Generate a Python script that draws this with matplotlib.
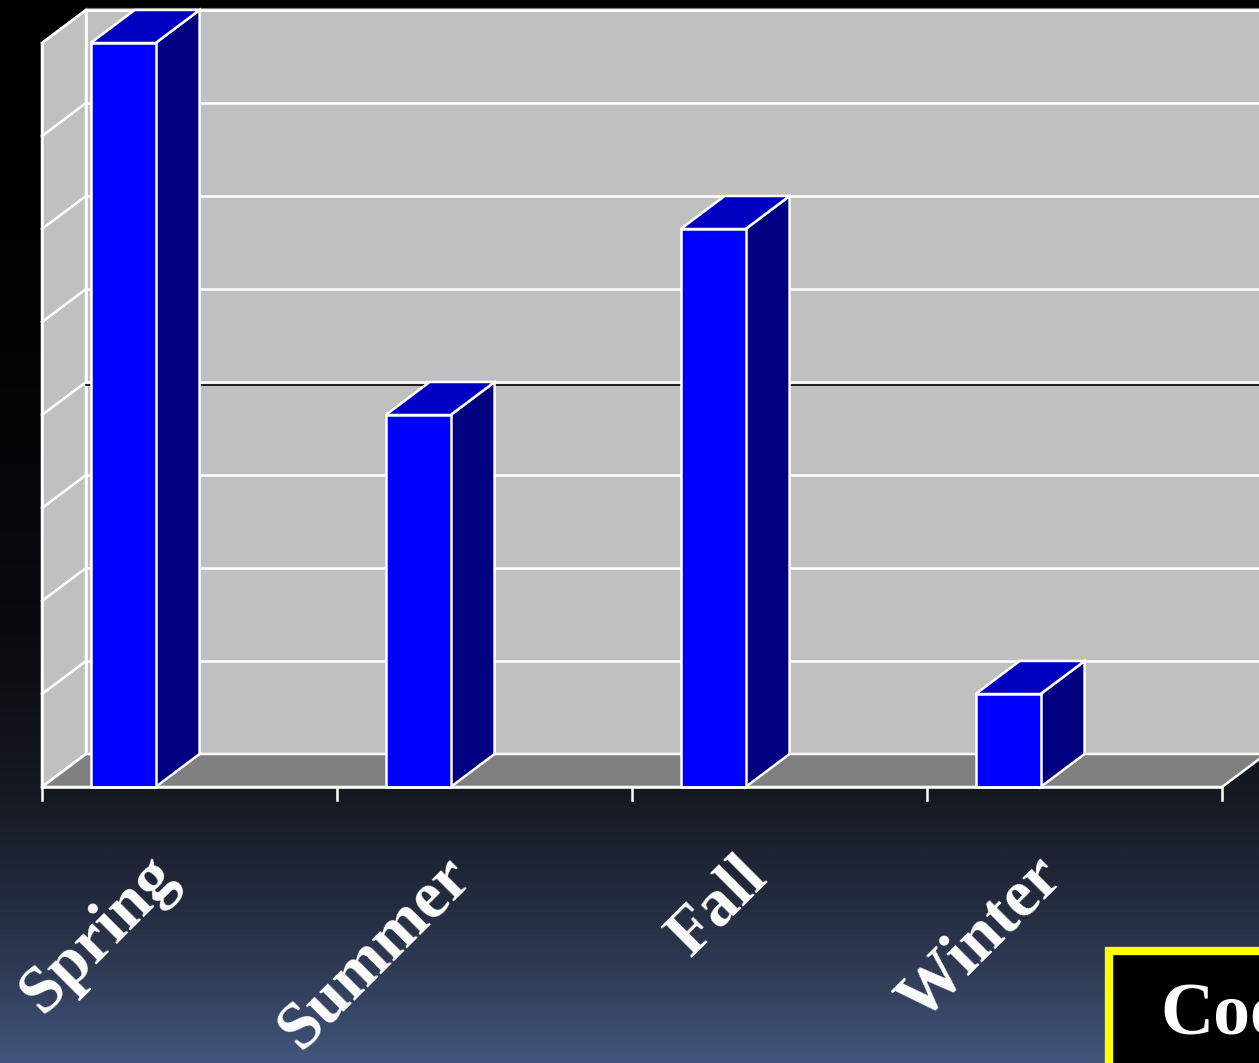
import numpy as np
import matplotlib
matplotlib.use("Agg")
import matplotlib.pyplot as plt
from matplotlib.patches import Polygon, Rectangle
from matplotlib.colors import LinearSegmentedColormap
import matplotlib.transforms as mtransforms

# Seasonal totals (chart units)
seasons = ["Spring", "Summer", "Fall", "Winter"]
values = [8, 4, 6, 1]
y_max = 8
grid_values = list(range(0, 9))
box_text = "Cool"

W, H = 1259, 1063
fig = plt.figure(figsize=(W / 100, H / 100), dpi=100)

# Slide-style gradient background
bg = fig.add_axes([0, 0, 1, 1], zorder=-10)
bg.set_axis_off()
stops = [(0.0, "#000000"), (0.33, "#030303"), (0.60, "#0a0b0f"),
         (0.75, "#151922"), (0.85, "#232b3e"), (0.94, "#34425f"),
         (1.0, "#42567c")]
cmap = LinearSegmentedColormap.from_list("slide", stops)
grad = np.linspace(0, 1, 512).reshape(-1, 1)
bg.imshow(grad, aspect="auto", cmap=cmap, extent=[0, 1, 1, 0])
bg.set_xlim(0, 1)
bg.set_ylim(1, 0)

# Front plane of the 3D chart
ax = fig.add_axes([42 / W, (H - 787) / H, 1180 / W, 744 / H])
ax.set_xlim(0, len(seasons))
ax.set_ylim(0, y_max)
ax.set_axis_off()

n = len(seasons)
DX = 44 / 295        # depth offset in category units
DY = 33 / 93         # depth offset in value units
EDGE = "white"
LW = 1.8

WALL = "#c0c0c0"
FLOOR = "#808080"
FRONT = "#0000ff"
SIDE = "#000080"
TOP = "#0000c0"

def poly(pts, fc, z):
    p = Polygon(pts, closed=True, facecolor=fc, edgecolor=EDGE, lw=LW,
                joinstyle="miter", zorder=z, clip_on=False)
    ax.add_patch(p)

# back wall
poly([(DX, DY), (n + DX + 0.5, DY), (n + DX + 0.5, y_max + DY), (DX, y_max + DY)], WALL, 1)
# thin rim above the back wall
ax.plot([DX, n + DX + 0.5], [y_max + DY + 0.025] * 2, color="#808080", lw=0.8,
        zorder=1.5, clip_on=False)
# side wall
poly([(0, 0), (DX, DY), (DX, y_max + DY), (0, y_max)], WALL, 1)

# gridlines on back and side walls
for v in grid_values:
    ax.plot([DX, n + DX + 0.5], [v + DY, v + DY], color=EDGE, lw=LW, zorder=2,
            clip_on=False, solid_capstyle="butt")
    ax.plot([0, DX], [v, v + DY], color=EDGE, lw=LW, zorder=2, clip_on=False)
# dark accent under the middle gridline
shift = mtransforms.offset_copy(ax.transData, fig=fig, x=0, y=-2.5, units="dots")
ax.plot([DX, n + DX + 0.5], [y_max / 2 + DY] * 2, color="black", lw=1.2, zorder=2,
        clip_on=False, transform=shift)

# floor
poly([(0, 0), (n, 0), (n + DX, DY), (DX, DY)], FLOOR, 3)

# bars
off, bw = 0.165, 0.22
for i, v in enumerate(values):
    x0 = i + off
    x1 = x0 + bw
    poly([(x1, 0), (x1 + DX, DY), (x1 + DX, v + DY), (x1, v)], SIDE, 4)
    poly([(x0, v), (x1, v), (x1 + DX, v + DY), (x0 + DX, v + DY)], TOP, 4)
    poly([(x0, 0), (x1, 0), (x1, v), (x0, v)], FRONT, 5)

# front axis line and category ticks
ax.plot([0, n], [0, 0], color=EDGE, lw=LW, zorder=6, clip_on=False)
tick_len = 13 / 93
for k in range(n + 1):
    ax.plot([k, k], [0, -tick_len], color=EDGE, lw=LW, zorder=6, clip_on=False)
ax.plot([0, 0], [0, y_max], color=EDGE, lw=LW, zorder=6, clip_on=False)

# rotated category labels
for i, s in enumerate(seasons):
    ax.text(i + 0.465, -0.99, s, rotation=45, rotation_mode="anchor",
            ha="right", va="baseline", color="white", fontsize=48,
            fontweight="bold", family="Liberation Serif", clip_on=False, zorder=7)

# callout box in the lower right
fx = lambda px: px / W
fy = lambda py: 1 - py / H
fig.patches.append(Rectangle((fx(1109), fy(1070)), fx(1300) - fx(1109), fy(951) - fy(1070),
                             transform=fig.transFigure, facecolor="black",
                             edgecolor="#ffff00", lw=6, zorder=20))
fig.text(fx(1160), fy(1033), box_text, color="white", fontsize=53, fontweight="bold",
         family="Liberation Serif", ha="left", va="baseline", zorder=21)

fig.savefig("out.png", dpi=100)
